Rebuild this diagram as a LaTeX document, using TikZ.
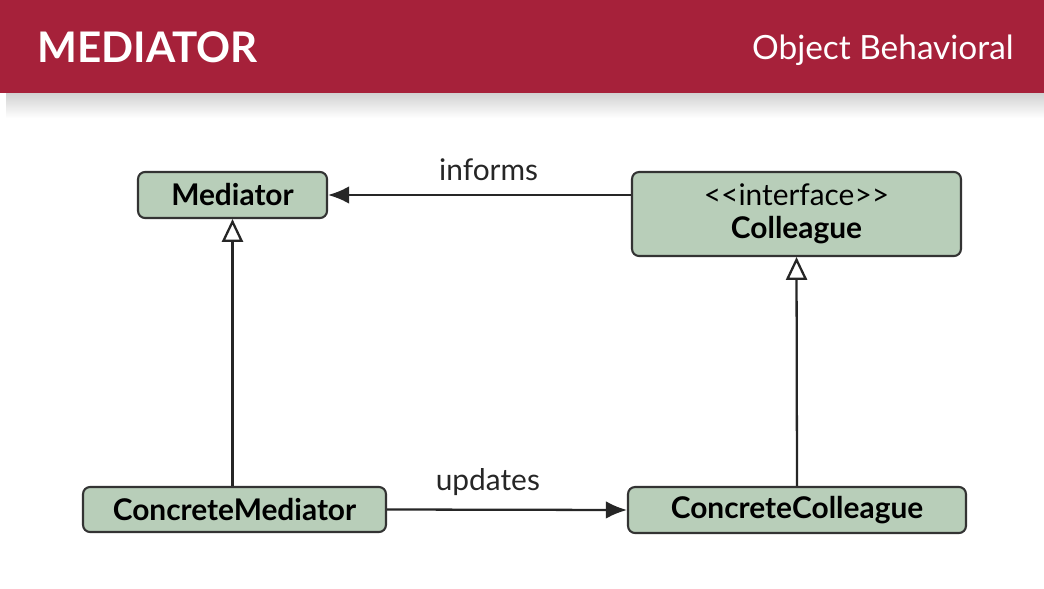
\documentclass[tikz,border=0pt]{standalone}
\usepackage{fontspec}
\setmainfont{Lato}
\usetikzlibrary{arrows.meta}
\definecolor{banner}{HTML}{A6213A}
\definecolor{classfill}{HTML}{B8CEB9}
\begin{document}
\begin{tikzpicture}[x=0.02cm,y=-0.02cm,
    cls/.style={draw=black!80,line width=1.2pt,fill=classfill,rounded corners=4pt,
      inner sep=0pt,font=\bfseries\fontsize{17}{18.5}\selectfont,align=center},
    assoc/.style={-{Latex[length=12pt,width=10pt]},line width=1.3pt,black!85},
    inherit/.style={-{Triangle[open,length=13pt,width=12pt]},line width=1.3pt,black!85},
    lbl/.style={font=\fontsize{17}{18}\selectfont,text=black!85}]
  \useasboundingbox (0,0) rectangle (1044,588);
  \shade[top color=black!18,bottom color=white] (6,93) rectangle (1044,118);
  \fill[banner] (0,0) rectangle (1044,93);
  \node[anchor=base west,text=white,inner sep=0pt,font=\bfseries\fontsize{24}{26}\selectfont] (title) at (37,63){MEDIATOR};
  \node[anchor=base east,text=white,inner sep=0pt,font=\fontsize{19}{22}\selectfont] (kind) at (1014,60){Object Behavioral};

  \node[cls,minimum width=3.78cm,minimum height=0.92cm] (med) at (232.5,195){Mediator};
  \node[cls,minimum width=6.58cm,minimum height=1.68cm] (col) at (796.5,214)
    {{\mdseries <\kern0pt<interface>\kern0pt>}\\Colleague};
  \node[cls,minimum width=6.06cm,minimum height=0.90cm] (cmed) at (234.5,509.5){ConcreteMediator};
  \node[cls,minimum width=6.76cm,minimum height=0.92cm] (ccol) at (797,510){ConcreteColleague};

  \draw[assoc] (col.west |- med.east) -- node[lbl,above=4pt,pos=0.47]{informs} (med.east);
  \draw[assoc] (cmed.east) -- node[lbl,above=4pt,pos=0.42]{updates} (ccol.west);
  \draw[inherit] (cmed.north -| med.south) -- (med.south);
  \draw[inherit] (ccol.north) -- (col.south);
\end{tikzpicture}
\end{document}
